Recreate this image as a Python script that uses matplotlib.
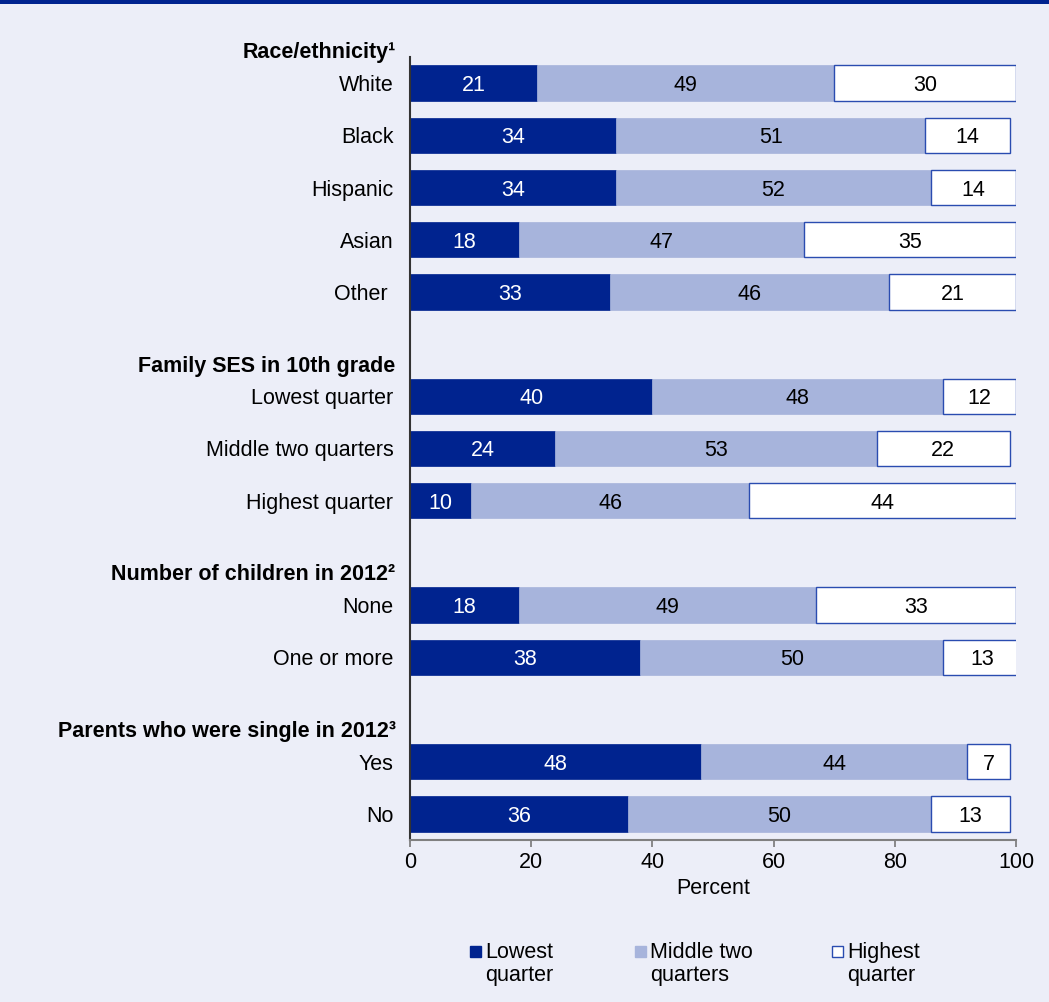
import numpy as np
import matplotlib.pyplot as plt
from matplotlib.patches import Rectangle

plt.rcParams["font.family"] = ["Liberation Sans", "DejaVu Sans"]

# group headers and the rows under each one
groups = [
    "Race/ethnicity¹",
    "Family SES in 10th grade",
    "Number of children in 2012²",
    "Parents who were single in 2012³",
]
group_rows = [
    ["White", "Black", "Hispanic", "Asian", "Other "],
    ["Lowest quarter", "Middle two quarters", "Highest quarter"],
    ["None", "One or more"],
    ["Yes", "No"],
]

# percent in each quarter, one entry per row in order
lowest = [21, 34, 34, 18, 33, 40, 24, 10, 18, 38, 48, 36]
middle = [49, 51, 52, 47, 46, 48, 53, 46, 49, 50, 44, 50]
highest = [30, 14, 14, 35, 21, 12, 22, 44, 33, 13, 7, 13]

series_names = ["Lowest\nquarter", "Middle two\nquarters", "Highest\nquarter"]

BG = "#eceef8"
DARK = "#00238f"
LIGHT = "#a7b4dc"
EDGE = "#2a4cb0"
FS = 15.5

# y positions: one row per bar, a blank row between groups
positions = []
labels = []
header_pos = []
y = 0
for g, rows in zip(groups, group_rows):
    header_pos.append(y - 0.58)
    for r in rows:
        positions.append(y)
        labels.append(r)
        y += 1
    y += 1
positions = np.array(positions, dtype=float)

fig = plt.figure(figsize=(10.49, 10.02), dpi=100, facecolor=BG)
ax = fig.add_axes([0.3909, 0.1617, 0.5776, 0.7814], facecolor=BG)

h = 0.68
lo = np.array(lowest)
mid = np.array(middle)
hi = np.array(highest)

ax.barh(positions, lo, height=h, color=DARK, edgecolor=DARK, linewidth=0.5)
ax.barh(positions, mid, left=lo, height=h, color=LIGHT, edgecolor=LIGHT, linewidth=0.5)
ax.barh(positions, hi, left=lo + mid, height=h, color="white", edgecolor=EDGE, linewidth=1.0)

for yp, a, b, c in zip(positions, lo, mid, hi):
    ax.text(a / 2, yp, str(a), ha="center", va="center_baseline", color="white", fontsize=FS)
    ax.text(a + b / 2, yp, str(b), ha="center", va="center_baseline", color="black", fontsize=FS)
    ax.text(a + b + c / 2, yp, str(c), ha="center", va="center_baseline", color="black", fontsize=FS)

for g, yp in zip(groups, header_pos):
    ax.text(-2.4, yp, g, ha="right", va="center", fontsize=FS, fontweight="bold")

ax.set_yticks(positions)
ax.set_yticklabels(labels, fontsize=FS)
ax.tick_params(axis="y", length=0, pad=12)
ax.set_ylim(14.5, -0.5)

ax.set_xlim(0, 100)
ax.set_xticks(np.arange(0, 101, 20))
ax.tick_params(axis="x", direction="out", length=5, width=1.2, color="#777777",
               labelsize=FS, pad=4)
ax.set_xlabel("Percent", fontsize=FS, labelpad=3)

for s in ["top", "right"]:
    ax.spines[s].set_visible(False)
ax.spines["left"].set_color("#333333")
ax.spines["left"].set_linewidth(1.5)
ax.spines["bottom"].set_color("#808080")
ax.spines["bottom"].set_linewidth(1.5)

# dark band across the top
fig.add_artist(Rectangle((0, 1 - 4 / 1002), 1, 4 / 1002, transform=fig.transFigure,
                         facecolor=DARK, edgecolor="none"))

# legend, drawn by hand so the swatch lines up with the first text line
W, H = 1049, 1002
legend_x = [470, 635, 832]
faces = [DARK, LIGHT, "white"]
edges = [DARK, LIGHT, EDGE]
for x0, name, fc, ec in zip(legend_x, series_names, faces, edges):
    fig.add_artist(Rectangle((x0 / W, 1 - 957 / H), 11 / W, 11 / H,
                             transform=fig.transFigure, facecolor=fc,
                             edgecolor=ec, linewidth=1.0))
    fig.text((x0 + 15) / W, 1 - 942 / H, name, ha="left", va="top", fontsize=FS,
             linespacing=1.1)

fig.savefig("out.png", dpi=100, facecolor=BG)
